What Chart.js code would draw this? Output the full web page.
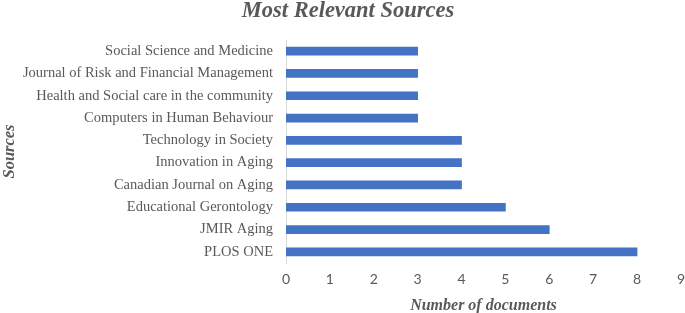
<!DOCTYPE html>
<html lang="en">
<head>
  <meta charset="UTF-8" />
  <title>Most Relevant Sources</title>
  <script src="https://cdn.jsdelivr.net/npm/chart.js"></script>
  <style>
    html, body { margin: 0; padding: 0; background: #fff; }
    #wrap { width: 685px; height: 313px; }
  </style>
</head>
<body>
  <div id="wrap"><canvas id="sourcesChart"></canvas></div>
  <script>
    // data, top to bottom
    const sources = [
      'Social Science and Medicine',
      'Journal of Risk and Financial Management',
      'Health and Social care in the community',
      'Computers in Human Behaviour',
      'Technology in Society',
      'Innovation in Aging',
      'Canadian Journal on Aging',
      'Educational Gerontology',
      'JMIR Aging',
      'PLOS ONE'
    ];
    const documents = [3, 3, 3, 3, 4, 4, 4, 5, 6, 8];

    const grey = '#595959';
    const serif = "'Liberation Serif', 'DejaVu Serif', serif";

    new Chart(document.getElementById('sourcesChart'), {
      type: 'bar',
      data: {
        labels: sources,
        datasets: [{
          label: 'Number of documents',
          data: documents,
          backgroundColor: '#4472C4',
          barThickness: 8
        }]
      },
      options: {
        indexAxis: 'y',
        responsive: true,
        maintainAspectRatio: false,
        animation: false,
        layout: { padding: { left: 0, right: -11, top: -2, bottom: 0 } },
        plugins: {
          legend: { display: false },
          tooltip: { enabled: false },
          title: {
            display: true,
            text: 'Most Relevant Sources',
            color: grey,
            font: { family: serif, size: 22.5, weight: 'bold', style: 'italic' },
            padding: { top: 0, bottom: 15 }
          }
        },
        scales: {
          x: {
            min: 0,
            max: 9,
            ticks: {
              stepSize: 1,
              color: grey,
              padding: 0,
              font: { family: "Lato, 'Open Sans', sans-serif", size: 14 }
            },
            grid: { display: false },
            border: { display: false },
            title: {
              display: true,
              text: 'Number of documents',
              color: grey,
              font: { family: serif, size: 16, weight: 'bold', style: 'italic' },
              padding: { top: 8, bottom: -2 }
            }
          },
          y: {
            ticks: {
              color: grey,
              padding: 5,
              font: { family: serif, size: 14.5 }
            },
            grid: { display: false },
            border: { display: true, color: '#d9d9d9', width: 1 },
            title: {
              display: true,
              text: 'Sources',
              color: grey,
              font: { family: serif, size: 16.5, weight: 'bold', style: 'italic' },
              padding: { top: 0, bottom: 0 }
            },
            afterFit: function (scale) { scale.width = 286; }
          }
        }
      }
    });
  </script>
</body>
</html>
